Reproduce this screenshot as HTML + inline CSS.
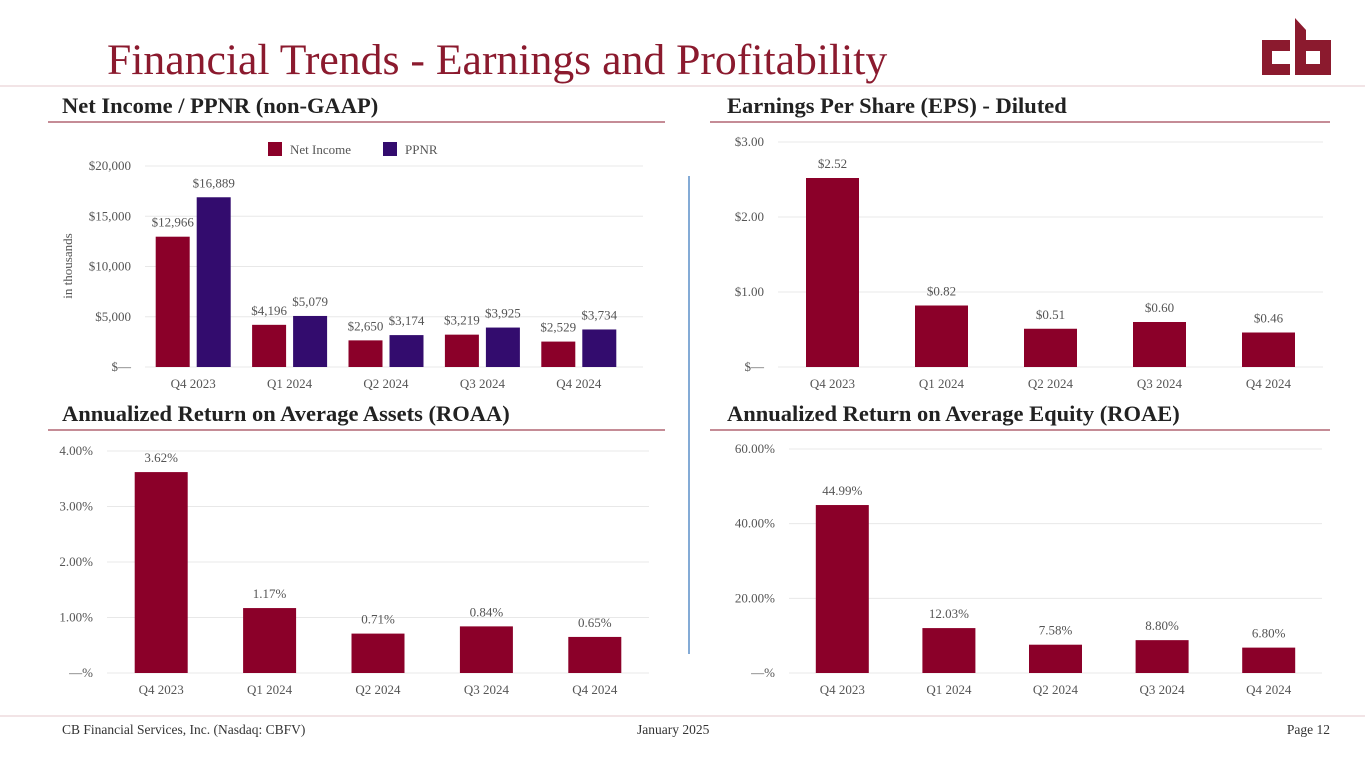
<!DOCTYPE html>
<html><head><meta charset="utf-8"><style>
body{margin:0;width:1365px;height:768px;background:#fff;overflow:hidden;font-family:"Liberation Serif",serif}
svg text{font-family:"Liberation Serif",serif}
</style></head><body>
<svg id="s" width="1365" height="768">
<text x="107" y="74" font-size="43.7" fill="#8b1a2e">Financial Trends - Earnings and Profitability</text>
<g fill="#8b1a2e">
<path d="M1262 40 L1290 40 L1290 51 L1272 51 L1272 64 L1290 64 L1290 75 L1262 75 Z"/>
<path d="M1295 18 L1306 30 L1306 40 L1331 40 L1331 75 L1295 75 Z M1306 51 L1306 64 L1320 64 L1320 51 Z" fill-rule="evenodd"/>
</g>
<line x1="0" y1="86" x2="1365" y2="86" stroke="#e6c9cc" stroke-width="1"/>
<text x="62" y="113" font-size="22.5" font-weight="bold" fill="#222">Net Income / PPNR (non-GAAP)</text>
<line x1="48" y1="122" x2="665" y2="122" stroke="#8b1a2e"/>
<text x="727" y="113" font-size="22.5" font-weight="bold" fill="#222">Earnings Per Share (EPS) - Diluted</text>
<line x1="710" y1="122" x2="1330" y2="122" stroke="#8b1a2e"/>
<text x="62" y="421" font-size="22.5" font-weight="bold" fill="#222">Annualized Return on Average Assets (ROAA)</text>
<line x1="48" y1="430" x2="665" y2="430" stroke="#8b1a2e"/>
<text x="727" y="421" font-size="22.5" font-weight="bold" fill="#222">Annualized Return on Average Equity (ROAE)</text>
<line x1="710" y1="430" x2="1330" y2="430" stroke="#8b1a2e"/>
<line x1="689" y1="176" x2="689" y2="654" stroke="#5b8fc9" stroke-width="1.5"/>
<line x1="0" y1="716" x2="1365" y2="716" stroke="#e6c9cc"/>
<text x="62" y="734" font-size="13.5" fill="#333">CB Financial Services, Inc. (Nasdaq: CBFV)</text>
<text x="637" y="734" font-size="13.5" fill="#333">January 2025</text>
<text x="1330" y="734" font-size="13.5" fill="#333" text-anchor="end">Page 12</text>
<text transform="translate(72,266) rotate(-90)" font-size="13" fill="#555" text-anchor="middle">in thousands</text>
<g>
<rect x="268" y="142" width="14" height="14" fill="#8b0029"/><text x="290" y="154" font-size="13" fill="#555">Net Income</text>
<rect x="383" y="142" width="14" height="14" fill="#330c6e"/><text x="405" y="154" font-size="13" fill="#555">PPNR</text>
</g>
</svg>
<script>
const categories=["Q4 2023","Q1 2024","Q2 2024","Q3 2024","Q4 2024"];
const netIncome=[12966,4196,2650,3219,2529];
const ppnr=[16889,5079,3174,3925,3734];
const netLabels=["$12,966","$4,196","$2,650","$3,219","$2,529"];
const ppnrLabels=["$16,889","$5,079","$3,174","$3,925","$3,734"];
const niTicks=[0,5000,10000,15000,20000];
const niTickLabels=["$—","$5,000","$10,000","$15,000","$20,000"];
const eps=[2.52,0.82,0.51,0.60,0.46];
const epsLabels=["$2.52","$0.82","$0.51","$0.60","$0.46"];
const epsTicks=[0,1,2,3];
const epsTickLabels=["$—","$1.00","$2.00","$3.00"];
const roaa=[3.62,1.17,0.71,0.84,0.65];
const roaaLabels=["3.62%","1.17%","0.71%","0.84%","0.65%"];
const roaaTicks=[0,1,2,3,4];
const roaaTickLabels=["—%","1.00%","2.00%","3.00%","4.00%"];
const roae=[44.99,12.03,7.58,8.80,6.80];
const roaeLabels=["44.99%","12.03%","7.58%","8.80%","6.80%"];
const roaeTicks=[0,20,40,60];
const roaeTickLabels=["—%","20.00%","40.00%","60.00%"];
const NS="http://www.w3.org/2000/svg";
const svg=document.getElementById('s');
function mk(tag,attrs,parent){const e=document.createElementNS(NS,tag);for(const k in attrs)e.setAttribute(k,attrs[k]);(parent||svg).appendChild(e);return e;}
function chart(o){
  const g=mk('g',{});
  
  
  const max=o.ticks[o.ticks.length-1];
  const y=v=>o.y0-(v/max)*(o.y0-o.y1);
  const bw=(o.x1-o.x0)/categories.length;
  const cx=i=>o.x0+bw*(i+0.5);
  o.ticks.forEach((t,i)=>{
    const l=mk('line',{x1:o.gx0||o.x0,x2:o.gx1||o.x1,y1:y(t),y2:y(t),stroke:'#e8e8e8'},g);
    
    
    const tx=mk('text',{x:(o.gx0||o.x0)-14,y:y(t)+4,'font-size':13,fill:'#555','text-anchor':'end'},g);
    tx.textContent=o.tickLabels[i];
    
    
  });
  categories.forEach((c,i)=>{
    const tx=mk('text',{x:cx(i),y:o.y0+21,'font-size':13,fill:'#555','text-anchor':'middle'},g);
    tx.textContent=c;
    
    
  });
  const n=o.series.length;
  o.series.forEach((s,si)=>{
    s.vals.forEach((v,i)=>{
      const x=n===1?cx(i)-o.w/2:cx(i)-o.w-o.gap/2+si*(o.w+o.gap);
      const r=mk('rect',{x:x,y:y(v),width:o.w,height:o.y0-y(v),fill:s.color},g);
      
      
      const tx=mk('text',{x:x+o.w/2,y:y(v)-10,'font-size':13,fill:'#555','text-anchor':'middle'},g);
      tx.textContent=s.labels[i];
      
      
    });
  });
}
chart({name:'net-income-chart',x0:145,x1:627,gx0:145,gx1:643,y0:367,y1:166,ticks:niTicks,tickLabels:niTickLabels,w:34,gap:7,
  series:[{key:'net-income',vals:netIncome,labels:netLabels,color:'#8b0029'},{key:'ppnr',vals:ppnr,labels:ppnrLabels,color:'#330c6e'}]});
chart({name:'eps-chart',x0:778,x1:1323,y0:367,y1:142,ticks:epsTicks,tickLabels:epsTickLabels,w:53,gap:0,
  series:[{key:'eps',vals:eps,labels:epsLabels,color:'#8b0029'}]});
chart({name:'roaa-chart',x0:107,x1:649,y0:673,y1:451,ticks:roaaTicks,tickLabels:roaaTickLabels,w:53,gap:0,
  series:[{key:'roaa',vals:roaa,labels:roaaLabels,color:'#8b0029'}]});
chart({name:'roae-chart',x0:789,x1:1322,y0:673,y1:449,ticks:roaeTicks,tickLabels:roaeTickLabels,w:53,gap:0,
  series:[{key:'roae',vals:roae,labels:roaeLabels,color:'#8b0029'}]});
</script>
</body></html>
